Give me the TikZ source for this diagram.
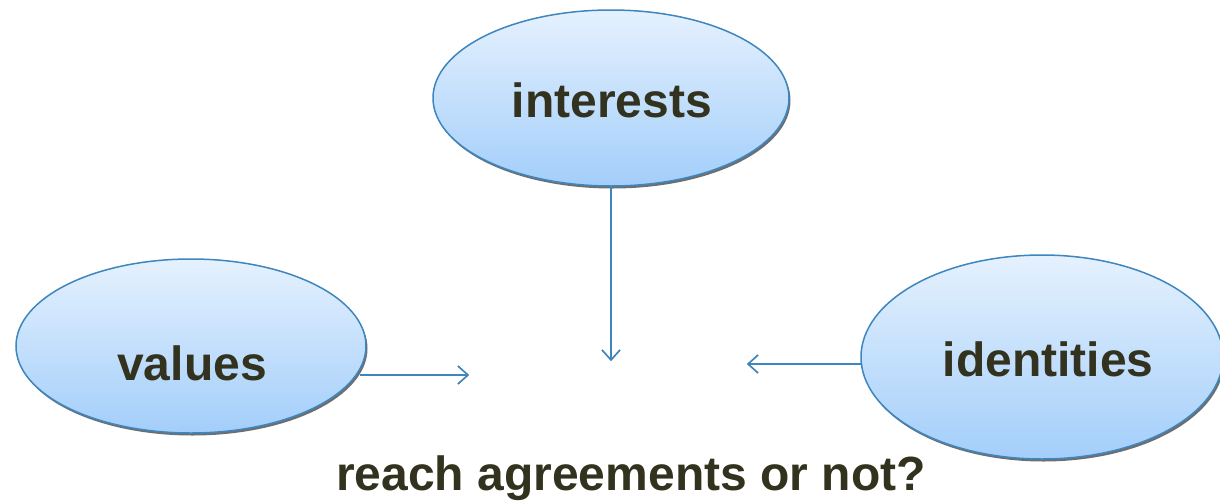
\documentclass[tikz,border=0pt]{standalone}
\usepackage{fontspec}
\setmainfont{Liberation Sans}
\usetikzlibrary{shapes.geometric,arrows.meta,shadows}
\definecolor{topblue}{RGB}{229,241,254}
\definecolor{botblue}{RGB}{163,206,250}
\definecolor{edgeblue}{RGB}{62,134,190}
\definecolor{txt}{RGB}{50,50,30}
\definecolor{shade}{RGB}{110,110,110}
\begin{document}
\begin{tikzpicture}[x=1pt,y=-1pt,
  bubble/.style={ellipse, draw=edgeblue, line width=1.5pt, top color=topblue, bottom color=botblue,
    inner sep=0pt,
    drop shadow={shadow xshift=1.5pt, shadow yshift=-2.5pt, fill=shade, opacity=1}},
  link/.style={draw=edgeblue, line width=1.5pt, -{Straight Barb[length=10pt,width=18pt]}},
  linkshadow/.style={draw=shade, line width=1.2pt, dotted, -{Straight Barb[length=10pt,width=18pt]}},
  lbl/.style={text=txt, font=\bfseries\fontsize{48}{56}\selectfont, inner sep=0pt, anchor=base}
]
\useasboundingbox (0,0) rectangle (1220,501);
\node[bubble, minimum width=356pt, minimum height=176pt] (interests) at (611,98) {};
\node[bubble, minimum width=350pt, minimum height=174pt] (values) at (191,346) {};
\node[bubble, minimum width=362pt, minimum height=204pt] (identities) at (1042,357) {};
\node[lbl] (interestslbl) at (612,117) {interests};
\node[lbl] (valueslbl) at (192,380) {values};
\node[lbl] (identitieslbl) at (1048,376) {identities};
\node[lbl] (question) at (631,490) {reach agreements or not?};
\coordinate (downend) at (611,361);
\coordinate (rightend) at (469,375);
\coordinate (leftend) at (747,364);
\coordinate (vstart) at (360,375);
\coordinate (istart) at (862,364);
\begin{scope}[shift={(1.5,2.5)}]
  \draw[linkshadow] (interests.south) -- (downend);
  \draw[linkshadow] (vstart) -- (rightend);
  \draw[linkshadow] (istart) -- (leftend);
\end{scope}
\draw[link] (interests.south) -- (downend);
\draw[link] (vstart) -- (rightend);
\draw[link] (istart) -- (leftend);
\end{tikzpicture}
\end{document}
